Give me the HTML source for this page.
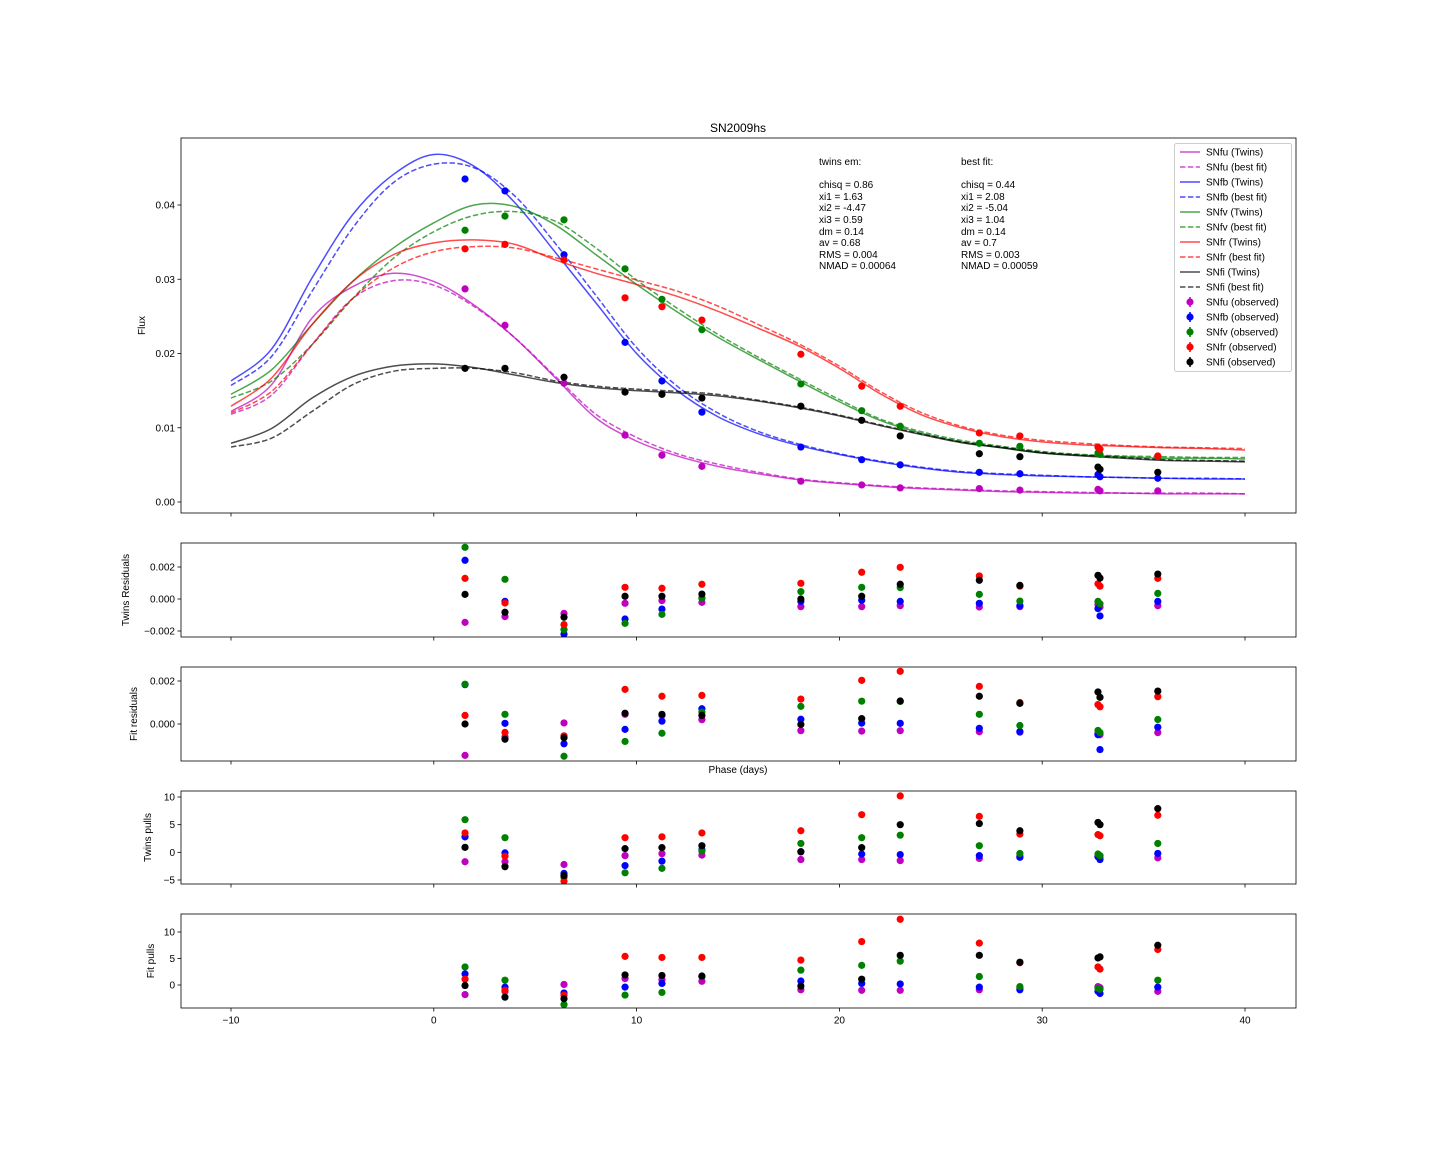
<!DOCTYPE html>
<html><head><meta charset="utf-8"><style>
html,body{margin:0;padding:0;background:#fff;}
svg{display:block;font-family:"Liberation Sans","DejaVu Sans",sans-serif;}
</style></head><body>
<svg id="fig" width="1440" height="1152" viewBox="0 0 1440 1152" xmlns="http://www.w3.org/2000/svg">
<rect width="1440" height="1152" fill="#fff"/>
<text x="738" y="132" font-size="12" text-anchor="middle">SN2009hs</text>
<g font-size="10">
<text x="819" y="165">twins em:</text>
<text x="819" y="188">chisq = 0.86</text>
<text x="819" y="200">xi1 = 1.63</text>
<text x="819" y="211">xi2 = -4.47</text>
<text x="819" y="223">xi3 = 0.59</text>
<text x="819" y="235">dm = 0.14</text>
<text x="819" y="246">av = 0.68</text>
<text x="819" y="258">RMS = 0.004</text>
<text x="819" y="269">NMAD = 0.00064</text>
<text x="961" y="165">best fit:</text>
<text x="961" y="188">chisq = 0.44</text>
<text x="961" y="200">xi1 = 2.08</text>
<text x="961" y="211">xi2 = -5.04</text>
<text x="961" y="223">xi3 = 1.04</text>
<text x="961" y="235">dm = 0.14</text>
<text x="961" y="246">av = 0.7</text>
<text x="961" y="258">RMS = 0.003</text>
<text x="961" y="269">NMAD = 0.00059</text>
</g>
<text x="738" y="773" font-size="10" text-anchor="middle">Phase (days)</text>
</svg>
<script>
// ---- data ----
const grid = [-10,-8,-6,-4,-2,0,2,4,6,8,10,12,14,16,18,20,22,24,26,28,30,32,34,36,38,40];
const u_tw = [0.0122,0.0158,0.0248,0.0290,0.0308,0.0297,0.0265,0.0221,0.0167,0.0113,0.0082,0.0062,0.0048,0.0038,0.0030,0.0025,0.0021,0.0018,0.0016,0.0014,0.0013,0.0012,0.0012,0.0011,0.0011,0.0011];
const u_bf = [0.0118,0.0144,0.0212,0.0274,0.0298,0.0292,0.0263,0.0221,0.0169,0.0118,0.0087,0.0065,0.0051,0.0040,0.0031,0.0026,0.0022,0.0019,0.0017,0.0015,0.0014,0.0013,0.0012,0.0012,0.0012,0.0011];
const b_tw = [0.0163,0.0206,0.0302,0.0387,0.0441,0.0468,0.0452,0.0403,0.0336,0.0268,0.0200,0.0150,0.0115,0.0092,0.0076,0.0064,0.0054,0.0046,0.0040,0.0037,0.0035,0.0034,0.0033,0.0032,0.0031,0.0031];
const b_bf = [0.0157,0.0196,0.0284,0.0369,0.0430,0.0455,0.0450,0.0412,0.0348,0.0278,0.0208,0.0156,0.0120,0.0095,0.0078,0.0065,0.0055,0.0047,0.0041,0.0038,0.0036,0.0034,0.0033,0.0032,0.0032,0.0031];
const v_tw = [0.0145,0.0178,0.0239,0.0297,0.0342,0.0376,0.0400,0.0398,0.0373,0.0333,0.0293,0.0256,0.0222,0.0192,0.0163,0.0135,0.0110,0.0093,0.0081,0.0073,0.0066,0.0063,0.0061,0.0059,0.0059,0.0058];
const v_bf = [0.0140,0.0163,0.0212,0.0274,0.0328,0.0364,0.0386,0.0391,0.0378,0.0342,0.0299,0.0261,0.0226,0.0195,0.0166,0.0138,0.0112,0.0095,0.0083,0.0075,0.0068,0.0064,0.0062,0.0061,0.0060,0.0060];
const r_tw = [0.0129,0.0167,0.0239,0.0297,0.0333,0.0349,0.0353,0.0347,0.0326,0.0308,0.0293,0.0277,0.0257,0.0234,0.0210,0.0180,0.0146,0.0118,0.0100,0.0088,0.0081,0.0077,0.0075,0.0073,0.0072,0.0070];
const r_bf = [0.0120,0.0149,0.0212,0.0274,0.0315,0.0337,0.0344,0.0342,0.0329,0.0314,0.0299,0.0284,0.0264,0.0239,0.0213,0.0183,0.0149,0.0121,0.0102,0.0090,0.0083,0.0079,0.0076,0.0074,0.0073,0.0072];
const i_tw = [0.0079,0.0099,0.0140,0.0169,0.0183,0.0186,0.0181,0.0171,0.0161,0.0154,0.0150,0.0147,0.0143,0.0136,0.0127,0.0116,0.0103,0.0091,0.0080,0.0073,0.0066,0.0062,0.0059,0.0056,0.0055,0.0054];
const i_bf = [0.0074,0.0086,0.0122,0.0158,0.0176,0.0180,0.0180,0.0174,0.0163,0.0156,0.0152,0.0149,0.0145,0.0137,0.0128,0.0117,0.0104,0.0092,0.0081,0.0074,0.0067,0.0063,0.0060,0.0057,0.0056,0.0055];

const phases = [1.54,3.51,6.42,9.43,11.25,13.22,18.1,21.1,23.0,26.9,28.9,32.75,32.85,35.7];
const u_obs = [0.0287,0.0238,0.0160,0.0090,0.0063,0.0048,0.0028,0.0023,0.0019,0.0018,0.0016,0.0017,0.0015,0.0015];
const b_obs = [0.0435,0.0419,0.0333,0.0215,0.0163,0.0121,0.0074,0.0057,0.0050,0.0040,0.0038,0.0037,0.0034,0.0032];
const v_obs = [0.0366,0.0385,0.0380,0.0314,0.0273,0.0232,0.0159,0.0123,0.0102,0.0079,0.0075,0.0066,0.0064,0.0061];
const r_obs = [0.0341,0.0347,0.0326,0.0275,0.0263,0.0245,0.0199,0.0156,0.0129,0.0093,0.0089,0.0074,0.0071,0.0062];
const i_obs = [0.0180,0.0180,0.0168,0.0148,0.0145,0.0140,0.0129,0.0110,0.0089,0.0065,0.0061,0.0047,0.0044,0.0040];

// residuals in units of 0.001
const u_twres = [-1.46,-1.10,-0.90,-0.27,-0.10,-0.21,-0.48,-0.48,-0.42,-0.50,-0.48,-0.35,-0.50,-0.42];
const b_twres = [2.42,-0.15,-2.19,-1.25,-0.63,0.06,-0.15,-0.08,-0.15,-0.27,-0.42,-0.60,-1.06,-0.15];
const v_twres = [3.23,1.23,-1.92,-1.52,-0.96,0.06,0.46,0.73,0.71,0.29,-0.13,-0.15,-0.30,0.35];
const r_twres = [1.29,-0.25,-1.60,0.73,0.67,0.92,0.98,1.67,1.98,1.44,0.80,0.95,0.80,1.29];
const i_twres = [0.29,-0.83,-1.14,0.17,0.17,0.31,0.00,0.17,0.92,1.17,0.85,1.48,1.31,1.56];

const u_fitres = [-1.46,-0.60,0.05,0.45,0.40,0.20,-0.31,-0.33,-0.31,-0.36,-0.38,-0.45,-0.50,-0.40];
const b_fitres = [1.83,0.03,-0.92,-0.25,0.13,0.71,0.22,0.04,0.03,-0.20,-0.35,-0.50,-1.19,-0.15];
const v_fitres = [1.85,0.45,-1.50,-0.81,-0.43,0.55,0.82,1.06,1.05,0.45,-0.07,-0.30,-0.40,0.21];
const r_fitres = [0.40,-0.39,-0.55,1.61,1.29,1.33,1.16,2.03,2.45,1.75,1.00,0.90,0.80,1.27];
const i_fitres = [0.00,-0.71,-0.64,0.50,0.45,0.40,-0.02,0.25,1.07,1.29,0.96,1.49,1.24,1.53];

const u_twpull = [-1.7,-1.7,-2.2,-0.6,-0.25,-0.5,-1.3,-1.3,-1.5,-1.1,-0.7,-0.8,-1.0,-1.0];
const b_twpull = [2.8,-0.1,-3.8,-2.4,-1.6,0.5,0.1,-0.3,-0.4,-0.6,-0.9,-0.8,-1.3,-0.2];
const v_twpull = [5.9,2.65,-4.5,-3.7,-2.9,0.25,1.6,2.65,3.1,1.2,-0.2,-0.3,-0.6,1.6];
const r_twpull = [3.5,-0.7,-5.2,2.65,2.8,3.5,3.9,6.8,10.2,6.5,3.3,3.2,3.0,6.7];
const i_twpull = [0.9,-2.6,-4.2,0.67,0.85,1.2,0.1,0.85,5.0,5.2,3.9,5.4,5.0,7.9];

const u_fitpull = [-1.8,-1.2,0.1,1.2,1.0,0.7,-0.9,-1.0,-1.0,-0.9,-0.6,-0.3,-0.5,-1.2];
const b_fitpull = [2.1,-0.4,-1.5,-0.4,0.3,1.6,0.75,0.3,0.2,-0.4,-0.9,-1.2,-1.6,-0.4];
const v_fitpull = [3.4,0.9,-3.7,-1.9,-1.4,1.6,2.8,3.7,4.5,1.6,-0.3,-0.6,-0.8,0.9];
const r_fitpull = [1.1,-1.0,-1.9,5.4,5.2,5.2,4.7,8.2,12.4,7.9,4.2,3.4,3.0,6.7];
const i_fitpull = [-0.1,-2.3,-2.6,1.9,1.8,1.7,-0.2,1.1,5.6,5.6,4.3,5.1,5.3,7.5];

const xTicks = [-10,0,10,20,30,40];
const xTickLabels = ["\u221210","0","10","20","30","40"];
const bands = ["u","b","v","r","i"];
const bandColors = ["#bf00bf","#0000ff","#008000","#ff0000","#000000"];
const lineColors = ["#bf00bf","#0000ff","#008000","#ff0000","#000000"];

// ---- layout ----
const NS = "http://www.w3.org/2000/svg";
const svg = document.getElementById("fig");
const X0 = 181, X1 = 1296;
function xs(p){ return 433.8 + p * 20.28; }
function mk(tag, attrs, parent){
  const e = document.createElementNS(NS, tag);
  for (const k in attrs) e.setAttribute(k, attrs[k]);
  (parent || svg).appendChild(e);
  return e;
}
const panels = [
  {key:"main", top:138, bot:513, v0:0, p0:502, v1:0.04, p1:205, ticks:[0,0.01,0.02,0.03,0.04], labels:["0.00","0.01","0.02","0.03","0.04"], ylab:"Flux", ylx:145},
  {key:"twres", top:543, bot:637, v0:2, p0:567, v1:-2, p1:631, ticks:[2,0,-2], labels:["0.002","0.000","\u22120.002"], ylab:"Twins Residuals", ylx:129},
  {key:"fitres", top:667, bot:761, v0:2, p0:681, v1:0, p1:724, ticks:[2,0], labels:["0.002","0.000"], ylab:"Fit residuals", ylx:137},
  {key:"twpull", top:791, bot:884, v0:10, p0:797, v1:-5, p1:880, ticks:[10,5,0,-5], labels:["10","5","0","\u22125"], ylab:"Twins pulls", ylx:151},
  {key:"fitpull", top:914, bot:1008, v0:10, p0:932, v1:0, p1:985, ticks:[10,5,0], labels:["10","5","0"], ylab:"Fit pulls", ylx:154}
];
function ysFor(pn){ return v => pn.p0 + (v - pn.v0) * (pn.p1 - pn.p0) / (pn.v1 - pn.v0); }

function catmull(pts){
  let d = "M" + pts[0][0].toFixed(2) + "," + pts[0][1].toFixed(2);
  for (let k = 0; k < pts.length - 1; k++){
    const p0 = pts[Math.max(0,k-1)], p1 = pts[k], p2 = pts[k+1], p3 = pts[Math.min(pts.length-1,k+2)];
    const c1x = p1[0] + (p2[0]-p0[0])/6, c1y = p1[1] + (p2[1]-p0[1])/6;
    const c2x = p2[0] - (p3[0]-p1[0])/6, c2y = p2[1] - (p3[1]-p1[1])/6;
    d += " C" + c1x.toFixed(2) + "," + c1y.toFixed(2) + " " + c2x.toFixed(2) + "," + c2y.toFixed(2) + " " + p2[0].toFixed(2) + "," + p2[1].toFixed(2);
  }
  return d;
}

const defs = mk("defs", {});
panels.forEach(pn => {
  const cp = mk("clipPath", {id:"clip-" + pn.key}, defs);
  mk("rect", {x:X0, y:pn.top, width:X1-X0, height:pn.bot-pn.top}, cp);
});

const series = {
  main: {tw:[u_tw,b_tw,v_tw,r_tw,i_tw], bf:[u_bf,b_bf,v_bf,r_bf,i_bf], obs:[u_obs,b_obs,v_obs,r_obs,i_obs]},
  twres: {obs:[u_twres,b_twres,v_twres,r_twres,i_twres]},
  fitres: {obs:[u_fitres,b_fitres,v_fitres,r_fitres,i_fitres]},
  twpull: {obs:[u_twpull,b_twpull,v_twpull,r_twpull,i_twpull]},
  fitpull: {obs:[u_fitpull,b_fitpull,v_fitpull,r_fitpull,i_fitpull]}
};

panels.forEach((pn, pi) => {
  const ys = ysFor(pn);
  const g = mk("g", {});
  
  
  pn.ticks.forEach((t, ti) => {
    const y = ys(t);
    const tk = mk("line", {x1:X0-3.5, x2:X0, y1:y, y2:y, stroke:"#000", "stroke-width":0.8}, g);
    
    
    const tl = mk("text", {x:X0-6, y:y+3.5, "font-size":10, "text-anchor":"end"}, g);
    tl.textContent = pn.labels[ti];
    
    
  });
  xTicks.forEach((t, ti) => {
    const x = xs(t);
    const tk = mk("line", {x1:x, x2:x, y1:pn.bot, y2:pn.bot+3.5, stroke:"#000", "stroke-width":0.8}, g);
    
    
    if (pi === panels.length - 1){
      const tl = mk("text", {x:x, y:pn.bot+15.5, "font-size":10, "text-anchor":"middle"}, g);
      tl.textContent = xTickLabels[ti];
      
      
    }
  });
  const cy = (pn.top + pn.bot) / 2;
  const yl = mk("text", {x:pn.ylx, y:cy, "font-size":10, "text-anchor":"middle", transform:"rotate(-90 " + pn.ylx + " " + cy + ")"}, g);
  yl.textContent = pn.ylab;
  
  

  const data = mk("g", {"clip-path":"url(#clip-" + pn.key + ")"}, g);
  const s = series[pn.key];
  if (s.tw){
    bands.forEach((bnd, bi) => {
      [["tw", s.tw[bi], null], ["bf", s.bf[bi], "5.5,2.4"]].forEach(([kind, arr, dash]) => {
        const pts = grid.map((p, k) => [xs(p), ys(arr[k])]);
        const at = {d:catmull(pts), fill:"none", stroke:lineColors[bi], "stroke-width":1.5, "stroke-opacity":0.7};
        if (dash) at["stroke-dasharray"] = dash;
        const path = mk("path", at, data);
        
        
      });
    });
  }
  bands.forEach((bnd, bi) => {
    const arr = s.obs[bi];
    phases.forEach((p, k) => {
      const c = mk("circle", {cx:xs(p), cy:ys(arr[k]), r:3.6, fill:bandColors[bi]}, data);
      
      
    });
  });
  const fr = mk("rect", {x:X0, y:pn.top, width:X1-X0, height:pn.bot-pn.top, fill:"none", stroke:"#000", "stroke-width":0.8}, g);
  
  
});

// ---- legend ----
const leg = mk("g", {"font-size":10});


mk("rect", {x:1174.5, y:143.5, width:117, height:228, rx:2, fill:"#fff", "fill-opacity":0.8, stroke:"#cccccc", "stroke-width":1}, leg);
const legendLabels = [];
bands.forEach(b => { legendLabels.push(["line", b, "SNf" + b + " (Twins)"]); legendLabels.push(["dash", b, "SNf" + b + " (best fit)"]); });
bands.forEach(b => legendLabels.push(["dot", b, "SNf" + b + " (observed)"]));
legendLabels.forEach((it, k) => {
  const y = 152 + k * 15;
  const bi = bands.indexOf(it[1]);
  const eg = mk("g", {}, leg);
  
  
  if (it[0] === "dot"){
    mk("line", {x1:1190, x2:1190, y1:y-5, y2:y+5, stroke:bandColors[bi], "stroke-width":1.5}, eg);
    mk("circle", {cx:1190, cy:y, r:3.6, fill:bandColors[bi]}, eg);
  } else {
    const at = {x1:1180, x2:1200, y1:y, y2:y, stroke:lineColors[bi], "stroke-width":1.5, "stroke-opacity":0.7};
    if (it[0] === "dash") at["stroke-dasharray"] = "5.5,2.4";
    mk("line", at, eg);
  }
  const t = mk("text", {x:1206, y:y+3.5}, eg);
  t.textContent = it[2];
});
</script>
</body></html>
